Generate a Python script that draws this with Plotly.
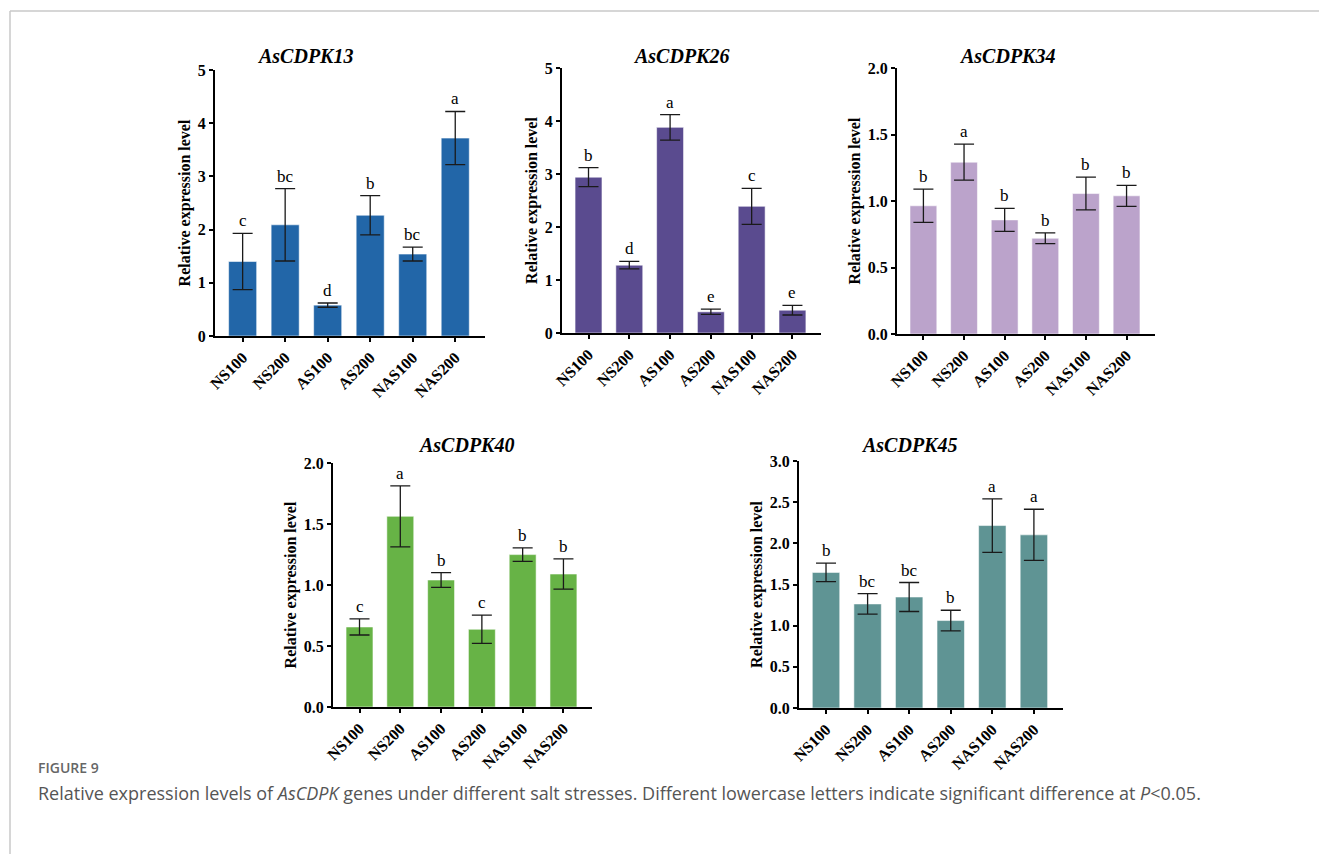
import plotly.graph_objects as go

W, H = 1319, 854

categories = ["NS100", "NS200", "AS100", "AS200", "NAS100", "NAS200"]

genes = ["AsCDPK13", "AsCDPK26", "AsCDPK34", "AsCDPK40", "AsCDPK45"]

vals_13 = [1.40, 2.09, 0.58, 2.27, 1.54, 3.72]
err_13 = [0.53, 0.68, 0.04, 0.37, 0.13, 0.50]
let_13 = ["c", "bc", "d", "b", "bc", "a"]

vals_26 = [2.94, 1.28, 3.88, 0.40, 2.39, 0.43]
err_26 = [0.18, 0.07, 0.24, 0.05, 0.34, 0.09]
let_26 = ["b", "d", "a", "e", "c", "e"]

vals_34 = [0.964, 1.292, 0.858, 0.720, 1.056, 1.039]
err_34 = [0.125, 0.135, 0.087, 0.040, 0.123, 0.079]
let_34 = ["b", "a", "b", "b", "b", "b"]

vals_40 = [0.656, 1.563, 1.041, 0.637, 1.249, 1.090]
err_40 = [0.066, 0.250, 0.060, 0.116, 0.056, 0.124]
let_40 = ["c", "a", "b", "c", "b", "b"]

vals_45 = [1.647, 1.264, 1.348, 1.062, 2.216, 2.103]
err_45 = [0.113, 0.125, 0.176, 0.125, 0.325, 0.311]
let_45 = ["b", "bc", "bc", "b", "a", "a"]

colors = ["#2266a8", "#5a4b8f", "#bba3cb", "#67b346", "#5f9494"]
y_max = [5, 5, 2.0, 2.0, 3.0]
y_dtick = [1, 1, 0.5, 0.5, 0.5]
y_fmt = ["d", "d", ".1f", ".1f", ".1f"]

# plot boxes in pixels: (x0, x1, ytop, ybottom)
boxes = [
    (215, 485, 70, 336),
    (562, 821, 68, 333),
    (897, 1155, 68, 334),
    (333, 592, 463, 707),
    (799, 1063, 461, 708),
]
title_pos = [(305, 56), (681, 56), (1007, 56), (466, 445), (909, 445)]

values = [vals_13, vals_26, vals_34, vals_40, vals_45]
errors = [err_13, err_26, err_34, err_40, err_45]
letters = [let_13, let_26, let_34, let_40, let_45]

SERIF = "Liberation Serif, Times New Roman, serif"

fig = go.Figure()
layout = dict(
    template="none",
    width=W, height=H,
    margin=dict(l=0, r=0, t=0, b=0, pad=0, autoexpand=False),
    paper_bgcolor="white", plot_bgcolor="white",
    showlegend=False,
)
annotations = []
xs = list(range(len(categories)))

for k in range(5):
    ax = "" if k == 0 else str(k + 1)
    x0, x1, yt, yb = boxes[k]
    fig.add_trace(go.Bar(
        x=xs, y=values[k],
        marker=dict(color=colors[k], line=dict(color="rgba(255,255,255,0.55)", width=1)),
        error_y=dict(type="data", array=errors[k], color="#1a1a1a", thickness=1.3, width=10),
        width=0.66,
        xaxis="x" + ax, yaxis="y" + ax,
    ))
    layout["xaxis" + ax] = dict(
        domain=[x0 / W, x1 / W], anchor="y" + ax, automargin=False,
        range=[-0.65, 5.7], tickmode="array", tickvals=xs, ticktext=categories,
        tickangle=-45, ticks="outside", ticklen=4, tickwidth=1.5, tickcolor="black",
        showline=True, linecolor="black", linewidth=2, showgrid=False, zeroline=False,
        tickfont=dict(family=SERIF, size=16, color="black", weight="bold"),
    )
    layout["yaxis" + ax] = dict(
        domain=[1 - yb / H, 1 - yt / H], anchor="x" + ax, automargin=False,
        range=[0, y_max[k]], dtick=y_dtick[k], tick0=0, tickformat=y_fmt[k],
        ticks="outside", ticklen=4, tickwidth=1.5, tickcolor="black",
        showline=True, linecolor="black", linewidth=2, showgrid=False, zeroline=False,
        tickfont=dict(family=SERIF, size=16, color="black", weight="bold"),
        title=dict(text="Relative expression level", standoff=3,
                   font=dict(family=SERIF, size=16, color="black", weight="bold")),
    )
    for i in xs:
        annotations.append(dict(
            x=i, y=values[k][i] + errors[k][i], xref="x" + ax, yref="y" + ax,
            text=letters[k][i], showarrow=False, yanchor="bottom", yshift=1,
            font=dict(family=SERIF, size=17, color="black"),
        ))
    tx, ty = title_pos[k]
    annotations.append(dict(
        x=tx / W, y=1 - ty / H, xref="paper", yref="paper",
        text="<b><i>" + genes[k] + "</i></b>", showarrow=False,
        xanchor="center", yanchor="middle",
        font=dict(family=SERIF, size=20, color="black"),
    ))

annotations.append(dict(
    x=36 / W, y=1 - 767 / H, xref="paper", yref="paper", text="FIGURE 9",
    showarrow=False, xanchor="left", yanchor="middle",
    font=dict(family="Open Sans, sans-serif", size=14, color="#666666", weight=600),
))
annotations.append(dict(
    x=36 / W, y=1 - 793 / H, xref="paper", yref="paper",
    text="Relative expression levels of <i>AsCDPK</i> genes under different salt stresses. "
         "Different lowercase letters indicate significant difference at <i>P</i>&lt;0.05.",
    showarrow=False, xanchor="left", yanchor="middle",
    font=dict(family="Open Sans, sans-serif", size=18, color="#555555"),
))
layout["annotations"] = annotations
layout["shapes"] = [
    dict(type="line", xref="paper", yref="paper", x0=10 / W, x1=1, y0=1 - 11 / H, y1=1 - 11 / H,
         line=dict(color="#c8c8c8", width=1.5)),
    dict(type="line", xref="paper", yref="paper", x0=10 / W, x1=10 / W, y0=0, y1=1 - 11 / H,
         line=dict(color="#c8c8c8", width=1.5)),
]
fig.update_layout(**layout)
fig.write_html(
    "out.html",
    config={"displayModeBar": False},
    post_script="document.body.style.margin='0';document.body.style.overflow='hidden';",
)
